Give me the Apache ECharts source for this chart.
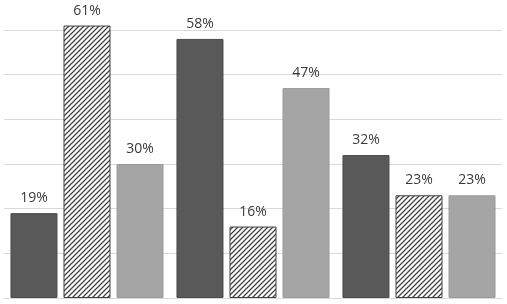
<!DOCTYPE html>
<html>
<head>
<meta charset="utf-8">
<script src="https://cdn.jsdelivr.net/npm/echarts@6/dist/echarts.min.js"></script>
<style>html,body{margin:0;padding:0;background:#fff;}#c{width:507px;height:304px;}</style>
</head>
<body>
<div id="c"></div>
<script>
var categories = ['Group 1', 'Group 2', 'Group 3'];
var seriesNames = ['Series A', 'Series B', 'Series C'];
var seriesA = [19, 58, 32];
var seriesB = [61, 16, 23];
var seriesC = [30, 47, 23];

function makeHatch() {
  var s = 5;
  var cv = document.createElement('canvas');
  cv.width = s; cv.height = s;
  var ctx = cv.getContext('2d');
  ctx.fillStyle = '#ffffff';
  ctx.fillRect(0, 0, s, s);
  ctx.strokeStyle = '#454545';
  ctx.lineWidth = 1.3;
  ctx.beginPath();
  ctx.moveTo(0, s); ctx.lineTo(s, 0);
  ctx.moveTo(-1, 1); ctx.lineTo(1, -1);
  ctx.moveTo(s - 1, s + 1); ctx.lineTo(s + 1, s - 1);
  ctx.stroke();
  return cv;
}

var chart = echarts.init(document.getElementById('c'), null, {renderer: 'canvas'});
var label = {
  show: true, position: 'top', distance: 8,
  formatter: '{c}%', color: '#3a3a3a',
  fontFamily: 'Open Sans', fontSize: 14
};
chart.setOption({
  animation: false,
  grid: {left: 4, right: 5, top: 30, bottom: 6},
  xAxis: {
    type: 'category', data: categories,
    axisLine: {show: true, lineStyle: {color: '#d9d9d9', width: 1}},
    axisTick: {show: false}, axisLabel: {show: false}
  },
  yAxis: {
    type: 'value', min: 0, max: 60, interval: 10,
    axisLabel: {show: false}, axisLine: {show: false}, axisTick: {show: false},
    splitLine: {lineStyle: {color: '#d9d9d9', width: 1}}
  },
  series: [
    {name: seriesNames[0], type: 'bar', data: seriesA, barWidth: 47, barGap: '12.8%', clip: false,
     itemStyle: {color: '#595959', borderColor: '#4a4a4a', borderWidth: 1}, label: label},
    {name: seriesNames[1], type: 'bar', data: seriesB, barWidth: 47, barGap: '12.8%', clip: false,
     itemStyle: {color: {image: makeHatch(), repeat: 'repeat'}, borderColor: '#404040', borderWidth: 1}, label: label},
    {name: seriesNames[2], type: 'bar', data: seriesC, barWidth: 47, barGap: '12.8%', clip: false,
     itemStyle: {color: '#a5a5a5', borderColor: '#9a9a9a', borderWidth: 1}, label: label}
  ]
});
</script>
</body>
</html>
